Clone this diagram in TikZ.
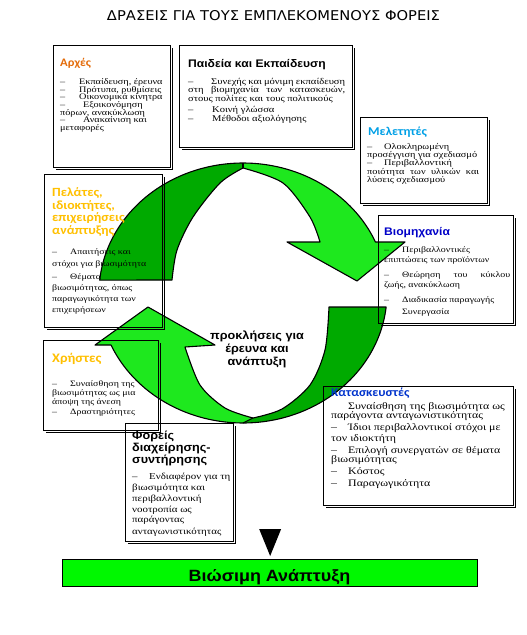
\documentclass[tikz,border=0pt]{standalone}
\usepackage{fontspec}
\usepackage{graphicx}
\setmainfont{Liberation Serif}
\newfontfamily\bodyf[FakeStretch=1.2]{Liberation Serif}
\newfontfamily\arialf[FakeStretch=1.1]{Liberation Sans}
\newfontfamily\calf[FakeStretch=1.1]{Carlito}
\newfontfamily\titlef{DejaVu Sans}
\definecolor{dkg}{RGB}{0,170,0}
\definecolor{ltg}{RGB}{30,232,30}
\definecolor{barg}{RGB}{0,248,0}
\definecolor{orgc}{RGB}{228,108,10}
\definecolor{ylw}{RGB}{255,192,0}
\definecolor{cyb}{RGB}{0,160,230}
\definecolor{blu}{RGB}{0,0,200}
\definecolor{blu2}{RGB}{0,51,204}
\newcommand\dsh[1]{\makebox[#1pt][l]{–}}
\newcommand\jl[2]{\makebox[#1pt][s]{#2}}
\newcommand\curbs{8.25}
\newcommand\bsz{\bodyf\fontsize{\curbs}{\curbs}\selectfont}
\newcommand\shd[1]{\draw[shad] ([xshift=3pt,yshift=-1.2pt]#1.south west) -- ([xshift=1.2pt,yshift=-1.2pt]#1.south east) -- ([xshift=1.2pt,yshift=-3pt]#1.north east);}
\tikzset{
  boxst/.style={draw=black, line width=1.1pt, inner sep=0pt, anchor=north west},
  shad/.style={line width=1.6pt},
  btxt/.style={font=\bsz, inner sep=0pt, anchor=base west},
  hcal/.style={font=\calf\bfseries\fontsize{12}{12}\selectfont, inner sep=0pt, anchor=base west},
  hari/.style={font=\arialf\bfseries\fontsize{11}{11}\selectfont, inner sep=0pt, anchor=base west},
  arrline/.style={draw=black, line width=1.1pt, line join=round},
}
\begin{document}
\begin{tikzpicture}[x=1pt,y=-1pt]
\useasboundingbox (0,0) rectangle (527,635);
\fill[white] (0,0) rectangle (527,635);
% title
\node[anchor=base, inner sep=0pt] (title) at (273.5,20) {\resizebox{333pt}{10pt}{\titlef ΔΡΑΣΕΙΣ ΓΙΑ ΤΟΥΣ ΕΜΠΛΕΚΟΜΕΝΟΥΣ ΦΟΡΕΙΣ}};

% ---------- upper arrow ----------
\fill[dkg] plot[domain=185.7:270,samples=50] ({243+144*cos(\x)},{293+130*sin(\x)})
  -- plot[smooth] coordinates {(243,168) (220,183) (193,217) (177,250) (172,280)} -- cycle;
\fill[ltg] plot[domain=270:336.9,samples=50] ({243+144*cos(\x)},{293+130*sin(\x)})
  -- (405,242) -- (357,281) -- (287,242)
  -- plot[smooth] coordinates {(320,242) (310,217) (283,183) (243,168)} -- cycle;
\draw[arrline] plot[domain=185.7:336.9,samples=90] ({243+144*cos(\x)},{293+130*sin(\x)})
  -- (405,242) -- (357,281) -- (287,242)
  -- plot[smooth] coordinates {(320,242) (310,217) (283,183) (243,168)}
  -- plot[smooth] coordinates {(243,168) (220,183) (193,217) (177,250) (172,280)} -- cycle;
\draw[arrline] (243,163) -- (243,168);

% ---------- lower arrow ----------
\fill[dkg] plot[domain=6.2:90,samples=50] ({243+144*cos(\x)},{293+130*sin(\x)})
  -- plot[smooth] coordinates {(253,418) (282,409) (310,385) (325,350) (329,307)} -- cycle;
\fill[ltg] plot[domain=90:156.4,samples=50] ({243+144*cos(\x)},{293+130*sin(\x)})
  -- (95,345) -- (148,307) -- (215,345)
  -- plot[smooth] coordinates {(185,347) (200,385) (225,408) (253,418)} -- cycle;
\draw[arrline] plot[domain=6.2:156.4,samples=90] ({243+144*cos(\x)},{293+130*sin(\x)})
  -- (95,345) -- (148,307) -- (215,345)
  -- plot[smooth] coordinates {(185,347) (200,385) (225,408) (253,418)}
  -- plot[smooth] coordinates {(253,418) (282,409) (310,385) (325,350) (329,307)} -- cycle;
\draw[arrline] (243,423) -- (253,418);

\node[font=\arialf\bfseries\fontsize{11.5}{13}\selectfont, align=center, inner sep=0pt, anchor=base] (cen) at (257,365) {προκλήσεις για\\έρευνα και\\ανάπτυξη};

% ---------- boxes ----------
\node[boxst, minimum width=117pt, minimum height=122pt] (arx) at (53,45) {};
\node[boxst, minimum width=173pt, minimum height=102pt] (paid) at (179,45) {};
\node[boxst, minimum width=127pt, minimum height=86pt] (mel) at (360,117) {};
\node[boxst, minimum width=118pt, minimum height=153pt] (pel) at (44,174) {};
\node[boxst, minimum width=135pt, minimum height=108pt] (viom) at (378,215) {};
\node[boxst, minimum width=115pt, minimum height=90pt] (xri) at (43,340) {};
\node[boxst, minimum width=190pt, minimum height=119pt] (kat) at (323,386) {};
\node[boxst, minimum width=108pt, minimum height=118pt] (for) at (125,423) {};
\shd{arx}\shd{paid}\shd{mel}\shd{pel}\shd{viom}\shd{xri}\shd{kat}\shd{for}

% Αρχές
\node[hcal, text=orgc, font=\calf\bfseries\fontsize{11.5}{12}\selectfont] (arxh) at (60,66.7) {Αρχές};
\begin{scope}
\renewcommand\curbs{8.5}
\node[btxt] (a1) at (60,84.5) {\dsh{19}Εκπαίδευση, έρευνα};
\node[btxt] (a2) at (60,92.2) {\dsh{19}Πρότυπα, ρυθμίσεις};
\node[btxt] (a3) at (60,99.8) {\dsh{19}Οικονομικά κίνητρα};
\node[btxt] (a4) at (60,107.5) {\dsh{23}Εξοικονόμηση};
\node[btxt] (a5) at (60,115.2) {πόρων, ανακύκλωση};
\node[btxt] (a6) at (60,122.8) {\dsh{23}Ανακαίνιση και};
\node[btxt] (a7) at (60,130.5) {μεταφορές};
\end{scope}

% Παιδεία
\node[hari, font=\arialf\bfseries\fontsize{11}{11}\selectfont] (paidh) at (188,67.3) {Παιδεία και Εκπαίδευση};
\begin{scope}
\renewcommand\curbs{8.8}
\node[btxt] (p1) at (188,84.3) {\jl{157}{\dsh{23}Συνεχής και μόνιμη εκπαίδευση}};
\node[btxt] (p2) at (188,92.6) {\jl{157}{στη βιομηχανία των κατασκευών,}};
\node[btxt] (p3) at (188,101) {στους πολίτες και τους πολιτικούς};
\node[btxt] (p4) at (188,112.5) {\dsh{24}Κοινή γλώσσα};
\node[btxt] (p5) at (188,121.7) {\dsh{24}Μέθοδοι αξιολόγησης};
\end{scope}

% Μελετητές
\node[hcal, text=cyb] (melh) at (368,135) {Μελετητές};
\begin{scope}
\renewcommand\curbs{8.6}
\node[btxt] (m1) at (367,149.3) {\dsh{17}Ολοκληρωμένη};
\node[btxt] (m2) at (367,157.2) {προσέγγιση για σχεδιασμό};
\node[btxt] (m3) at (367,165.6) {\dsh{17}Περιβαλλοντική};
\node[btxt] (m4) at (367,174) {\jl{112}{ποιότητα των υλικών και}};
\node[btxt] (m5) at (367,182.4) {λύσεις σχεδιασμού};
\end{scope}

% Πελάτες
\begin{scope}[every node/.append style={hcal, text=ylw, font=\calf\bfseries\fontsize{12.5}{12.5}\selectfont}]
\node (pelh) at (52,196.7) {Πελάτες,};
\node (pelh2) at (52,209.2) {ιδιοκτήτες,};
\node (pelh3) at (52,221.7) {επιχειρήσεις};
\node (pelh4) at (52,234.2) {ανάπτυξης};
\end{scope}
\node[btxt] (c1) at (52,254) {\dsh{18}Απαιτήσεις και};
\node[btxt] (c2) at (52,266.5) {στόχοι για βιωσιμότητα};
\node[btxt] (c3) at (52,279) {\dsh{18}Θέματα};
\node[btxt] (c4) at (52,290) {βιωσιμότητας, όπως};
\node[btxt] (c5) at (52,301) {παραγωγικότητα των};
\node[btxt] (c6) at (52,312.5) {επιχειρήσεων};

% Βιομηχανία
\node[hari, text=blu] (viomh) at (384,235) {Βιομηχανία};
\node[btxt] (v1) at (384,252.5) {\dsh{18}Περιβαλλοντικές};
\node[btxt] (v2) at (384,262) {επιπτώσεις των προϊόντων};
\node[btxt] (v3) at (384,277.5) {\jl{126}{\dsh{18}Θεώρηση του κύκλου}};
\node[btxt] (v4) at (384,287.5) {ζωής, ανακύκλωση};
\node[btxt] (v5) at (384,302.5) {\dsh{18}Διαδικασία παραγωγής};
\node[btxt] (v6) at (384,314) {\hspace*{18pt}Συνεργασία};

% Χρήστες
\node[hcal, text=ylw, font=\calf\bfseries\fontsize{13}{13}\selectfont] (xrih) at (52,362.3) {Χρήστες};
\node[btxt] (x1) at (52,386) {\dsh{18}Συναίσθηση της};
\node[btxt] (x2) at (52,395) {βιωσιμότητας ως μια};
\node[btxt] (x3) at (52,404) {άποψη της άνεση};
\node[btxt] (x4) at (52,414) {\dsh{18}Δραστηριότητες};

% Κατασκευστές
\node[hcal, text=blu2] (kath) at (331,396) {Κατασκευστές};
\begin{scope}
\renewcommand\curbs{9.9}
\node[btxt] (k1) at (331,409) {\hspace*{17pt}Συναίσθηση της βιωσιμότητα ως};
\node[btxt] (k2) at (331,418.5) {παράγοντα ανταγωνιστικότητας};
\node[btxt] (k3) at (331,430) {\dsh{17}Ίδιοι περιβαλλοντικοί στόχοι με};
\node[btxt] (k4) at (331,441.5) {τον ιδιοκτήτη};
\node[btxt] (k5) at (331,453) {\dsh{17}Επιλογή συνεργατών σε θέματα};
\node[btxt] (k6) at (331,462) {βιωσιμότητας};
\node[btxt] (k7) at (331,474.5) {\dsh{17}Κόστος};
\node[btxt] (k8) at (331,486) {\dsh{17}Παραγωγικότητα};
\end{scope}

% Φορείς
\begin{scope}[every node/.append style={hari, font=\arialf\bfseries\fontsize{11.5}{12}\selectfont}]
\node (forh) at (132,439) {Φορείς};
\node (forh2) at (132,451) {διαχείρησης-};
\node (forh3) at (132,463) {συντήρησης};
\end{scope}
\begin{scope}
\renewcommand\curbs{9.1}
\node[btxt] (f1) at (132,479) {\dsh{17}Ενδιαφέρον για τη};
\node[btxt] (f2) at (132,490) {βιωσιμότητα και};
\node[btxt] (f3) at (132,501) {περιβαλλοντική};
\node[btxt] (f4) at (132,512) {νοοτροπία ως};
\node[btxt] (f5) at (132,522.5) {παράγοντας};
\node[btxt] (f6) at (132,534) {ανταγωνιστικότητας};
\end{scope}

% ---------- bottom ----------
\node[draw=black, fill=barg, line width=1.3pt, inner sep=0pt, minimum width=415pt, minimum height=27pt, anchor=north west] (bar) at (62,559) {};
\node[font=\arialf\bfseries\fontsize{16.3}{17}\selectfont, inner sep=0pt, anchor=base] (bart) at (269.5,581) {Βιώσιμη Ανάπτυξη};
\fill[black] ([xshift=-11pt,yshift=30pt]bar.north) -- ([xshift=11pt,yshift=30pt]bar.north) -- ([yshift=3pt]bar.north) -- cycle;
\end{tikzpicture}
\end{document}
